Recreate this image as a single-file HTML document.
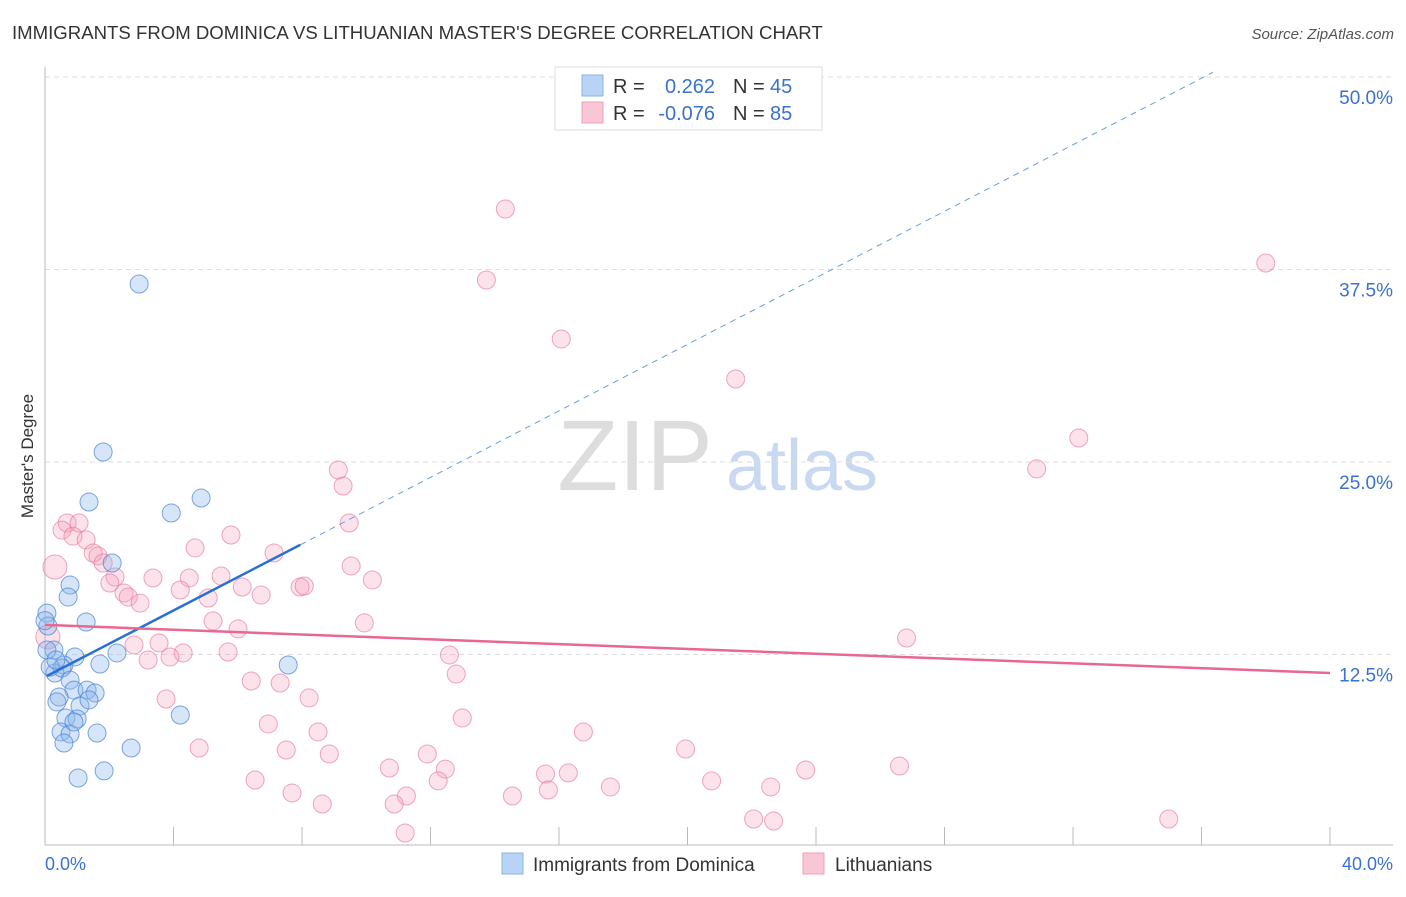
<!DOCTYPE html>
<html><head><meta charset="utf-8"><style>
body{margin:0;background:#fff;width:1406px;height:892px;overflow:hidden;font-family:"Liberation Sans",sans-serif}
svg text{font-family:"Liberation Sans",sans-serif}
</style></head><body>
<svg id="chart" width="1406" height="892" xmlns="http://www.w3.org/2000/svg">
<text x="12" y="39" font-size="18.6" fill="#333">IMMIGRANTS FROM DOMINICA VS LITHUANIAN MASTER'S DEGREE CORRELATION CHART</text>
<text x="1394" y="39" font-size="15" fill="#555" text-anchor="end" font-style="italic">Source: ZipAtlas.com</text>
<text transform="translate(33,456) rotate(-90)" font-size="17" fill="#333" text-anchor="middle">Master's Degree</text>
<g>
<text x="635" y="490" font-size="100" fill="#ddd" font-family="Liberation Serif,serif" text-anchor="middle">ZIP</text>
<text x="802" y="490" font-size="72" fill="#c9d9f2" text-anchor="middle">atlas</text>
</g>
<g id="grid"></g><g id="axes"></g><g id="pts"></g><g id="lines"></g>
<g>
<rect x="555" y="67" width="267" height="63" fill="#fff" stroke="#ddd"/>
<rect x="582" y="75" width="21" height="21" fill="#b9d3f5" stroke="#8bb2e8"/>
<rect x="582" y="102" width="21" height="21" fill="#f9c6d5" stroke="#f0a0b8"/>
<text x="613" y="93" font-size="20" fill="#333">R =</text><text x="715" y="93" font-size="20" fill="#3a72d0" text-anchor="end">0.262</text>
<text x="733" y="93" font-size="20" fill="#333">N =</text><text x="770" y="93" font-size="20" fill="#3a72d0">45</text>
<text x="613" y="120" font-size="20" fill="#333">R =</text><text x="715" y="120" font-size="20" fill="#3a72d0" text-anchor="end">-0.076</text>
<text x="733" y="120" font-size="20" fill="#333">N =</text><text x="770" y="120" font-size="20" fill="#3a72d0">85</text>
</g>
<g>
<rect x="502" y="853" width="21" height="21" fill="#b9d3f5" stroke="#8bb2e8"/>
<text x="533" y="871" font-size="19" fill="#333">Immigrants from Dominica</text>
<rect x="803" y="853" width="21" height="21" fill="#f9c6d5" stroke="#f0a0b8"/>
<text x="835" y="871" font-size="19" fill="#333">Lithuanians</text>
</g>
</svg>
<script>
const yTicks=[12.5,25,37.5,50];
const yTickLabels=["12.5%","25.0%","37.5%","50.0%"];
const xTicks=[0,4,8,12,16,20,24,28,32,36,40];
const blueX=[2.93,1.81,1.37,4.86,3.93,2.09,0.78,0.72,0.06,0.09,1.28,0.28,0.93,2.24,0.59,0.31,1.71,0.53,7.57,0.78,0.9,1.31,1.56,0.44,0.37,1.09,1.37,0.65,1.0,4.21,0.5,0.78,1.62,0.59,2.68,1.84,1.03,0.06,0.16,0.34,0.9,0.0];
const blueY=[36.56,25.65,22.4,22.66,21.69,18.44,17.01,16.23,15.19,14.35,14.61,12.79,12.34,12.6,11.82,11.3,11.88,11.62,11.82,10.84,10.19,10.19,10.0,9.74,9.42,9.16,9.55,8.38,8.31,8.57,7.47,7.34,7.4,6.75,6.43,4.94,4.48,12.79,11.69,12.14,8.12,14.7];
const pinkX=[14.33,38.0,13.74,16.07,21.5,32.18,30.87,9.13,9.28,9.47,0.69,1.06,0.53,0.87,1.28,5.79,4.67,7.13,1.5,1.65,0.31,1.81,2.18,3.36,4.49,5.48,9.53,10.19,2.02,4.21,6.14,2.46,7.94,8.07,2.59,2.96,6.73,5.08,5.23,6.01,9.94,26.82,0.09,2.77,3.55,4.3,5.7,3.21,3.89,12.59,12.8,6.42,7.32,8.22,3.77,12.99,6.95,8.5,16.76,4.8,7.51,8.85,19.94,11.9,10.72,12.46,26.6,23.68,15.58,16.29,6.54,12.24,20.75,17.6,22.59,7.69,11.25,14.55,15.67,8.63,10.87,11.21,22.06,22.68,34.98];
const pinkY=[41.43,37.92,36.82,32.99,30.39,26.56,24.55,24.48,23.44,21.04,21.04,21.04,20.58,20.19,19.94,20.26,19.42,19.09,19.09,18.9,18.18,18.44,17.53,17.47,17.47,17.6,18.25,17.34,17.14,16.69,16.88,16.49,16.88,16.95,16.23,15.84,16.36,16.17,14.68,14.16,14.55,13.57,13.64,13.12,13.25,12.6,12.66,12.14,12.34,12.47,11.23,10.78,10.65,9.68,9.61,8.38,7.99,7.47,7.47,6.43,6.3,6.04,6.36,6.04,5.13,5.06,5.26,5.0,4.74,4.81,4.35,4.29,4.29,3.9,3.9,3.51,3.31,3.31,3.7,2.79,2.79,0.91,1.82,1.69,1.82];
const pinkBig=[20,42];
const blueTrend=[11.04,1.08];
const pinkTrend=[14.42,-0.078];
const NS="http://www.w3.org/2000/svg";
const sx=v=>45+v*32.125, sy=v=>847-v*15.4;
function mk(tag,attrs,parent){const e=document.createElementNS(NS,tag);for(const k in attrs)e.setAttribute(k,attrs[k]);document.getElementById(parent).appendChild(e);return e;}
yTicks.forEach((t,i)=>{
 const g=mk('line',{x1:45,x2:1393,y1:sy(t),y2:sy(t),stroke:'#ddd','stroke-dasharray':'5,4'},'grid');
 
 
 const l=mk('text',{x:1393,y:sy(t)+27,'font-size':19,fill:'#3a72d0','text-anchor':'end'},'axes');
 l.textContent=yTickLabels[i];
 
 
});
const ya=mk('line',{x1:45,x2:45,y1:67,y2:845,stroke:'#bbb'},'axes');


const xa=mk('line',{x1:45,x2:1393,y1:845,y2:845,stroke:'#bbb'},'axes');


xTicks.forEach(t=>{
 const k=mk('line',{x1:sx(t),x2:sx(t),y1:827,y2:845,stroke:'#bbb'},'axes');
 
 
});
const x0=mk('text',{x:45,y:870,'font-size':18,fill:'#3a72d0'},'axes');x0.textContent='0.0%';


const x1=mk('text',{x:1393,y:870,'font-size':18,fill:'#3a72d0','text-anchor':'end'},'axes');x1.textContent='40.0%';


pinkX.forEach((v,i)=>{
 const c=mk('circle',{cx:sx(v),cy:sy(pinkY[i]),r:pinkBig.includes(i)?12:9,fill:'rgba(245,160,185,0.3)',stroke:'rgba(230,120,155,0.65)','stroke-width':1},'pts');
 
 
});
blueX.forEach((v,i)=>{
 const c=mk('circle',{cx:sx(v),cy:sy(blueY[i]),r:9,fill:'rgba(140,180,235,0.35)',stroke:'rgba(70,130,215,0.7)','stroke-width':1},'pts');
 
 
});
const bl=v=>blueTrend[0]+blueTrend[1]*v, pl=v=>pinkTrend[0]+pinkTrend[1]*v;
const bs=mk('line',{x1:sx(0.06),y1:sy(bl(0.06)),x2:sx(7.95),y2:sy(bl(7.95)),stroke:'#2a6fd6','stroke-width':2.5},'lines');


const xe=(50.3-blueTrend[0])/blueTrend[1];
const bd=mk('line',{x1:sx(7.95),y1:sy(bl(7.95)),x2:sx(xe),y2:sy(bl(xe)),stroke:'#6a9de0','stroke-width':1,'stroke-dasharray':'6,5'},'lines');


const pt=mk('line',{x1:sx(0),y1:sy(pl(0)),x2:sx(40),y2:sy(pl(40)),stroke:'#e8688f','stroke-width':2.5},'lines');


</script>
</body></html>
